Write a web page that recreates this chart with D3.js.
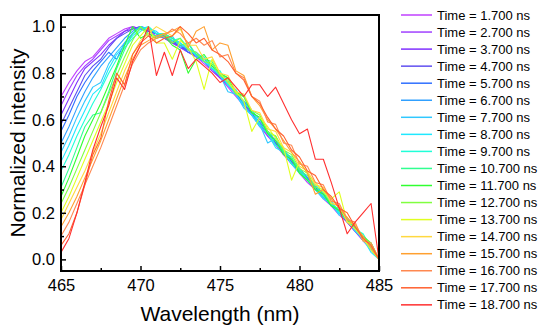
<!DOCTYPE html>
<html>
<head>
<meta charset="utf-8">
<script src="https://cdn.jsdelivr.net/npm/d3@7/dist/d3.min.js"></script>
<style>
  body { margin: 0; background: #fff; }
  svg { font-family: "Liberation Sans", Arial, sans-serif; }
</style>
</head>
<body>
<svg id="chart" width="550" height="332"></svg>
<script>
// Wavelength grid (nm) shared by every spectrum
var wavelengths = [465, 465.5, 466, 466.5, 467, 467.5, 468, 468.5, 469, 469.5,
  470, 470.5, 471, 471.5, 472, 472.5, 473, 473.5, 474, 474.5,
  475, 475.5, 476, 476.5, 477, 477.5, 478, 478.5, 479, 479.5,
  480, 480.5, 481, 481.5, 482, 482.5, 483, 483.5, 484, 484.5, 485];

// Delay times of each spectrum (ns)
var times = [1.7, 2.7, 3.7, 4.7, 5.7, 6.7, 7.7, 8.7, 9.7, 10.7, 11.7, 12.7, 13.7, 14.7, 15.7, 16.7, 17.7, 18.7];

// Normalized intensities, one array per delay time
var spec01 = [0.70,0.76,0.81,0.85,0.87,0.91,0.95,0.97,0.99,1.00,0.99,0.98,0.96,0.95,0.93,0.91,0.89,0.87,0.84,0.81,0.78,0.74,0.70,0.66,0.62,0.57,0.53,0.49,0.45,0.41,0.37,0.33,0.30,0.26,0.23,0.19,0.16,0.12,0.08,0.04,0.00];
var spec02 = [0.66,0.73,0.79,0.83,0.86,0.90,0.94,0.96,0.98,1.00,0.99,0.98,0.97,0.95,0.93,0.91,0.89,0.87,0.85,0.81,0.78,0.75,0.71,0.66,0.62,0.58,0.53,0.50,0.45,0.42,0.38,0.34,0.30,0.27,0.23,0.20,0.16,0.12,0.08,0.05,0.00];
var spec03 = [0.62,0.69,0.76,0.82,0.85,0.88,0.92,0.95,0.98,0.99,1.00,0.98,0.97,0.95,0.94,0.91,0.90,0.87,0.85,0.82,0.78,0.75,0.71,0.67,0.62,0.58,0.54,0.50,0.46,0.41,0.38,0.34,0.31,0.27,0.23,0.20,0.16,0.12,0.09,0.05,0.00];
var spec04 = [0.58,0.65,0.72,0.79,0.83,0.86,0.91,0.95,0.97,0.99,1.00,0.99,0.97,0.96,0.93,0.92,0.90,0.88,0.85,0.82,0.79,0.75,0.72,0.67,0.63,0.58,0.55,0.50,0.46,0.42,0.38,0.35,0.31,0.27,0.24,0.20,0.17,0.13,0.09,0.05,0.00];
var spec05 = [0.55,0.62,0.70,0.76,0.81,0.85,0.89,0.86,0.93,0.97,1.00,0.98,0.97,0.96,0.94,0.92,0.89,0.88,0.85,0.82,0.79,0.76,0.71,0.68,0.63,0.59,0.55,0.50,0.47,0.42,0.39,0.35,0.31,0.28,0.24,0.20,0.17,0.13,0.09,0.05,0.00];
var spec06 = [0.50,0.57,0.65,0.72,0.78,0.83,0.87,0.91,0.95,0.98,1.00,0.99,0.97,0.96,0.95,0.93,0.90,0.89,0.86,0.83,0.80,0.76,0.72,0.68,0.64,0.60,0.55,0.51,0.47,0.43,0.39,0.35,0.32,0.28,0.24,0.21,0.17,0.13,0.09,0.05,0.00];
var spec07 = [0.46,0.53,0.61,0.68,0.74,0.76,0.84,0.89,0.93,0.97,1.00,0.99,0.98,0.95,0.96,0.91,0.93,0.87,0.85,0.82,0.79,0.72,0.71,0.65,0.62,0.58,0.50,0.52,0.47,0.43,0.38,0.34,0.30,0.27,0.23,0.20,0.17,0.13,0.08,0.05,0.00];
var spec08 = [0.42,0.49,0.57,0.64,0.71,0.74,0.82,0.88,0.92,0.96,0.99,1.00,0.97,0.97,0.95,0.93,0.90,0.88,0.85,0.82,0.79,0.75,0.71,0.66,0.62,0.57,0.54,0.48,0.46,0.41,0.37,0.34,0.30,0.26,0.24,0.19,0.17,0.12,0.09,0.03,0.00];
var spec09 = [0.38,0.45,0.53,0.60,0.67,0.73,0.80,0.86,0.91,0.95,0.98,1.00,0.97,0.97,0.94,0.95,0.91,0.88,0.87,0.82,0.81,0.75,0.73,0.67,0.64,0.58,0.55,0.49,0.47,0.41,0.39,0.34,0.32,0.27,0.25,0.20,0.18,0.13,0.11,0.05,0.00];
var spec10 = [0.31,0.39,0.48,0.57,0.62,0.63,0.72,0.82,0.90,0.97,1.00,0.97,0.96,0.97,0.95,0.92,0.93,0.88,0.86,0.85,0.79,0.78,0.72,0.70,0.63,0.61,0.54,0.53,0.46,0.44,0.38,0.36,0.30,0.29,0.23,0.22,0.16,0.15,0.09,0.06,0.00];
var spec11 = [0.27,0.35,0.44,0.53,0.60,0.67,0.75,0.83,0.92,1.00,0.95,0.97,0.95,0.96,0.92,0.90,0.80,0.86,0.88,0.83,0.80,0.78,0.72,0.70,0.63,0.61,0.54,0.51,0.45,0.43,0.37,0.34,0.30,0.28,0.23,0.21,0.17,0.14,0.10,0.07,0.00];
var spec12 = [0.24,0.31,0.39,0.47,0.55,0.63,0.71,0.79,0.87,0.94,1.00,0.96,0.95,0.97,0.93,0.95,0.90,0.89,0.85,0.84,0.79,0.77,0.71,0.70,0.64,0.62,0.55,0.53,0.47,0.45,0.39,0.37,0.31,0.30,0.24,0.23,0.17,0.15,0.09,0.07,0.00];
var spec13 = [0.20,0.27,0.35,0.43,0.51,0.59,0.67,0.76,0.84,0.92,0.96,1.00,0.93,0.93,0.86,0.94,0.91,0.85,0.73,0.86,0.80,0.76,0.72,0.68,0.55,0.61,0.57,0.52,0.48,0.34,0.42,0.37,0.33,0.29,0.26,0.29,0.16,0.13,0.09,0.04,0.00];
var spec14 = [0.17,0.24,0.31,0.38,0.46,0.54,0.63,0.72,0.81,0.88,0.94,0.97,1.00,0.98,0.96,0.99,0.92,0.92,0.86,0.87,0.80,0.79,0.72,0.71,0.64,0.63,0.56,0.55,0.48,0.46,0.40,0.38,0.32,0.31,0.24,0.23,0.16,0.15,0.08,0.06,0.00];
var spec15 = [0.14,0.20,0.27,0.35,0.43,0.51,0.60,0.69,0.78,0.86,0.92,0.94,0.96,0.97,0.98,1.00,0.91,0.98,1.00,0.90,0.93,0.92,0.81,0.79,0.70,0.66,0.60,0.56,0.51,0.46,0.42,0.37,0.28,0.30,0.26,0.22,0.18,0.14,0.10,0.05,0.00];
var spec16 = [0.10,0.16,0.24,0.32,0.40,0.48,0.57,0.66,0.75,0.84,0.90,0.93,0.95,0.96,0.99,0.97,0.93,0.95,0.92,0.94,0.87,0.88,0.80,0.78,0.70,0.68,0.59,0.58,0.50,0.49,0.41,0.40,0.33,0.32,0.25,0.24,0.17,0.16,0.08,0.07,0.00];
var spec17 = [0.06,0.11,0.20,0.32,0.45,0.52,0.68,0.80,0.75,0.88,0.93,0.96,0.93,0.95,0.96,1.00,0.97,0.93,0.95,0.90,0.88,0.85,0.80,0.77,0.70,0.67,0.61,0.56,0.53,0.47,0.44,0.38,0.36,0.30,0.27,0.22,0.20,0.14,0.09,0.06,0.00];
var spec18 = [0.03,0.09,0.20,0.33,0.47,0.57,0.66,0.78,0.73,0.85,0.92,1.00,0.79,0.89,0.79,0.90,0.82,0.86,0.83,0.80,0.76,0.78,0.74,0.70,0.75,0.75,0.70,0.74,0.67,0.60,0.54,0.56,0.43,0.43,0.33,0.22,0.11,0.16,0.20,0.24,0.00];

var spectra = [spec01, spec02, spec03, spec04, spec05, spec06, spec07, spec08, spec09,
  spec10, spec11, spec12, spec13, spec14, spec15, spec16, spec17, spec18];

// Rainbow line colours, violet -> red
var colors = ['#c040ff', '#a040ff', '#8030ff', '#6050f0', '#3070ff', '#30a0ff', '#30c8ff', '#20e8ff', '#20ffd8',
  '#30ff90', '#30ff30', '#80ff40', '#e0ff20', '#ffd840', '#ffa030', '#ff8850', '#ff6030', '#ff3030'];

var xTicks = [465, 470, 475, 480, 485];
var xMinor = [467.5, 472.5, 477.5, 482.5];
var yTicks = [0, 0.2, 0.4, 0.6, 0.8, 1.0];
var yMinor = [0.1, 0.3, 0.5, 0.7, 0.9];


var svg = d3.select('#chart');
var plot = {left: 61, right: 379, top: 15, bottom: 271};

var x = d3.scaleLinear().domain([465, 485]).range([plot.left, plot.right]);
var y = d3.scaleLinear().domain([-0.05, 1.05]).range([plot.bottom, plot.top]);

// spectra
var line = d3.line()
    .x(function(d, i){ return x(wavelengths[i]); })
    .y(function(d){ return y(d); });

svg.append('g')
    .selectAll('path')
    .data(spectra)
    .enter()
    .append('path')
    .attr('d', line)
    .attr('fill', 'none')
    .attr('stroke', function(d, i){ return colors[i]; })
    .attr('stroke-width', 1.1)
    .attr('stroke-linejoin', 'round');

// axes, ticks pointing inward
function styleAxis(g){
  g.select('.domain').remove();
  g.selectAll('.tick line').attr('stroke', '#000').attr('stroke-width', 1.5);
  g.selectAll('.tick text').attr('fill', '#000').style('font-size', '16.5px');
}

svg.append('g')
    .attr('transform', 'translate(0,' + plot.bottom + ')')
    .call(d3.axisBottom(x).tickValues(xTicks).tickSize(-5).tickPadding(8).tickFormat(d3.format('d')))
    .call(styleAxis);

svg.append('g')
    .attr('transform', 'translate(0,' + plot.bottom + ')')
    .call(d3.axisBottom(x).tickValues(xMinor).tickSize(-3).tickFormat(''))
    .call(styleAxis);

svg.append('g')
    .attr('transform', 'translate(' + plot.left + ',0)')
    .call(d3.axisLeft(y).tickValues(yTicks).tickSize(-5).tickPadding(6).tickFormat(d3.format('.1f')))
    .call(styleAxis);

svg.append('g')
    .attr('transform', 'translate(' + plot.left + ',0)')
    .call(d3.axisLeft(y).tickValues(yMinor).tickSize(-3).tickFormat(''))
    .call(styleAxis);

// frame
svg.append('rect')
    .attr('x', plot.left)
    .attr('y', plot.top)
    .attr('width', plot.right - plot.left)
    .attr('height', plot.bottom - plot.top)
    .attr('fill', 'none')
    .attr('stroke', '#000')
    .attr('stroke-width', 2);

// axis titles
svg.append('text')
    .attr('x', (plot.left + plot.right) / 2)
    .attr('y', 321)
    .attr('text-anchor', 'middle')
    .style('font-size', '21px')
    .text('Wavelength (nm)');

svg.append('text')
    .attr('transform', 'translate(25,' + (plot.top + plot.bottom) / 2 + ') rotate(-90)')
    .attr('text-anchor', 'middle')
    .style('font-size', '21px')
    .text('Normalized intensity');

// legend
var legend = svg.append('g')
    .selectAll('g')
    .data(times)
    .enter()
    .append('g')
    .attr('transform', function(d, i){ return 'translate(0,' + (15 + i * 17.05) + ')'; });

legend.append('line')
    .attr('x1', 401)
    .attr('x2', 432)
    .attr('stroke', function(d, i){ return colors[i]; })
    .attr('stroke-width', 1.5);

legend.append('text')
    .attr('x', 437)
    .attr('y', 4.5)
    .style('font-size', '13px')
    .text(function(d){ return 'Time = ' + d.toFixed(3) + ' ns'; });
</script>
</body>
</html>
